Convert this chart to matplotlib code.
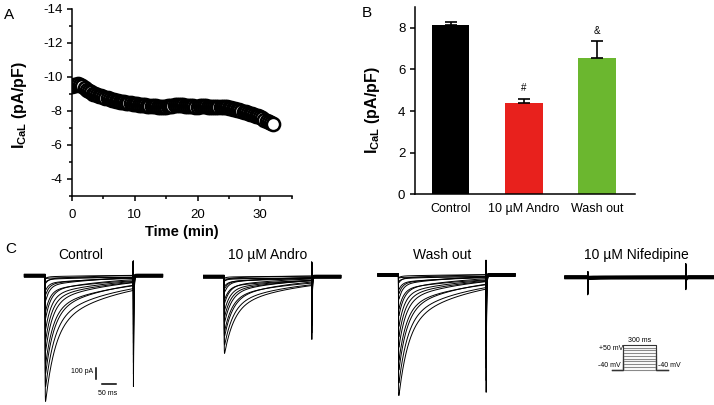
import numpy as np
import matplotlib.pyplot as plt
from matplotlib.ticker import MultipleLocator

plt.rcParams['font.family'] = ['Liberation Sans', 'DejaVu Sans']
plt.rcParams['mathtext.fontset'] = 'custom'
plt.rcParams['mathtext.rm'] = 'Liberation Sans'
plt.rcParams['mathtext.bf'] = 'Liberation Sans:bold'
plt.rcParams['mathtext.it'] = 'Liberation Sans:italic'
plt.rcParams['axes.unicode_minus'] = False

W, H = 714, 405

# --- panel A: I_CaL vs time (one point every 20 s) ---
time_min = np.arange(97) / 3.0
ical_time = [
    -9.45, -9.50, -9.55, -9.58, -9.55, -9.45, -9.35, -9.25, -9.18,
    -9.10, -9.02, -8.98, -8.92, -8.88, -8.85, -8.80, -8.76, -8.73,
    -8.70, -8.66, -8.64, -8.60, -8.58, -8.55, -8.52, -8.50, -8.48,
    -8.46, -8.44, -8.42, -8.40, -8.38, -8.37, -8.35, -8.33, -8.32,
    -8.30, -8.29, -8.28, -8.27, -8.26, -8.25, -8.25, -8.24, -8.24,
    -8.25, -8.27, -8.29, -8.31, -8.33, -8.35, -8.36, -8.35, -8.33,
    -8.31, -8.30, -8.28, -8.27, -8.26, -8.25, -8.25, -8.26, -8.27,
    -8.28, -8.27, -8.25, -8.24, -8.23, -8.22, -8.22, -8.23, -8.24,
    -8.24, -8.23, -8.21, -8.19, -8.16, -8.13, -8.10, -8.06, -8.02,
    -7.98, -7.95, -7.91, -7.87, -7.84, -7.80, -7.76, -7.72, -7.68,
    -7.63, -7.56, -7.48, -7.42, -7.36, -7.30, -7.24,
]

# --- panel B: mean +/- SEM ---
groups = ['Control', '10 µM Andro', 'Wash out']
ical_mean = [8.15, 4.38, 6.57]
ical_sem = [0.12, 0.22, 0.80]
bar_colors = ['#000000', '#e8211d', '#6bb72f']
signif = ['', '#', '&']

# --- panel C: current families (pA), one entry per sweep ---
trace_titles = ['Control', '10 µM Andro', 'Wash out', '10 µM Nifedipine']
peaks = [
    [15, 35, 60, 95, 140, 200, 270, 350, 440, 540, 650, 760, 870, 980, 1090, 1235],
    [10, 22, 38, 60, 88, 125, 170, 220, 275, 335, 400, 465, 530, 600, 670, 755],
    [15, 35, 60, 95, 140, 195, 260, 335, 420, 515, 620, 730, 840, 950, 1060, 1185],
    [2, 3, 4, 5, 6, 7, 8, 9, 10, 11, 12, 13, 14, 15, 16, 18],
]
tau_fast = [8, 9, 10, 11, 12, 13, 14, 16, 18, 20, 22, 24, 26, 28, 30, 32]   # ms
slow_frac = [0.55, 0.5, 0.48, 0.45, 0.42, 0.4, 0.38, 0.36, 0.34, 0.33, 0.33,
             0.34, 0.35, 0.36, 0.38, 0.4]
holding = [-14, 8, -5, 14, -9, 3, 11, -12, 6, -3, 0, 9, -7, 12, -2, 4]      # pA
tail_down = [1040, 590, 1100, 120]
tail_up = [125, 125, 125, 115]
onset_down = [0, 0, 0, 150]
onset_up = [0, 0, 0, 40]

# where each family sits on the page (px): step onset, step end, baseline
trace_place = [(45, 133.3, 275.7), (224, 311.7, 276.7),
               (398.3, 486, 275), (587.7, 685.7, 277.3)]
px_per_pA = 0.107

# voltage protocol
step_mv = [-40, -30, -20, -10, 0, 10, 20, 30, 40, 50]
hold_mv = -40
step_ms = 300


def px_axes(fig, x0, y0, x1, y1):
    return fig.add_axes([x0 / W, 1 - y1 / H, (x1 - x0) / W, (y1 - y0) / H])


def sweep(t, peak, tau, fs, hold, t_dn, t_up, c_dn, c_up):
    i = np.full_like(t, float(hold))
    on = (t >= 0) & (t < step_ms)
    ts = t[on]
    i[on] = hold - peak * ((1 - fs) * np.exp(-ts / tau) + fs * np.exp(-ts / 240)) \
        * (1 - np.exp(-ts / 0.4))
    i[t == 0] = hold - c_dn
    i[t == 0.5] = hold + c_up
    off = t > step_ms
    i[off] = hold - t_dn * np.exp(-(t[off] - step_ms - 0.5) / 1.5)
    i[t == step_ms] = hold + t_up
    return i


fig = plt.figure(figsize=(W / 100, H / 100), dpi=100)

# ---------------- A ----------------
ax_a = px_axes(fig, 72, 9, 291.7, 195.7)
ax_a.plot(time_min, ical_time, ls='none', marker='o', ms=9.5,
          mfc='white', mec='black', mew=1.8)
ax_a.set_xlim(0, 35)
ax_a.set_ylim(-3, -14)
ax_a.set_xticks([0, 10, 20, 30])
ax_a.xaxis.set_minor_locator(MultipleLocator(5))
ax_a.set_yticks([-14, -12, -10, -8, -6, -4])
ax_a.yaxis.set_minor_locator(MultipleLocator(1))
ax_a.set_xlabel('Time (min)', fontsize=10.5, fontweight='bold', labelpad=3)
ax_a.set_ylabel(r'$\mathbf{I_{CaL}}$ (pA/pF)', fontsize=11.5, fontweight='bold')
ax_a.yaxis.set_label_coords(-0.196, 0.486)

# ---------------- B ----------------
ax_b = px_axes(fig, 415, 7, 635, 194.3)
xb = np.arange(len(groups))
ax_b.bar(xb, ical_mean, width=0.51, color=bar_colors)
ax_b.errorbar(xb, ical_mean, yerr=[np.zeros(3), ical_sem], fmt='none',
              ecolor='black', elinewidth=1.2, capsize=4.5, capthick=1.2)
for x, m, s, lab in zip(xb, ical_mean, ical_sem, signif):
    if lab:
        ax_b.text(x, m + s + 0.25, lab, ha='center', va='bottom', fontsize=7)
ax_b.set_xlim(-0.49, 2.52)
ax_b.set_ylim(0, 9)
ax_b.set_yticks([0, 2, 4, 6, 8])
ax_b.set_xticks(xb)
ax_b.set_xticklabels(groups)
ax_b.set_ylabel(r'$\mathbf{I_{CaL}}$ (pA/pF)', fontsize=11.5, fontweight='bold')
ax_b.yaxis.set_label_coords(-0.151, 0.45)

for ax in (ax_a, ax_b):
    for side in ('top', 'right'):
        ax.spines[side].set_visible(False)
    for side in ('left', 'bottom'):
        ax.spines[side].set_linewidth(1.1)
    ax.tick_params(which='major', length=3.5, width=1.1, labelsize=9.5)
    ax.tick_params(which='minor', length=2.2, width=1.1)
ax_a.tick_params(axis='x', which='major', pad=6)
ax_b.tick_params(axis='x', length=0, pad=6, labelsize=9)

# ---------------- C ----------------
t = np.arange(-70, 400, 0.5)
for k, (onset, end, base) in enumerate(trace_place):
    s = (end - onset) / step_ms
    ax = px_axes(fig, onset - 80 * s, base - 200 * px_per_pA,
                 onset + 410 * s, base + 1300 * px_per_pA)
    ax.set_xlim(-80, 410)
    ax.set_ylim(-1300, 200)
    ax.set_axis_off()
    pk_max = max(peaks[k])
    for pk, tau, fs, hold in zip(peaks[k], tau_fast, slow_frac, holding):
        frac = pk / pk_max
        ax.plot(t, sweep(t, pk, tau, fs, hold, tail_down[k] * frac, tail_up[k],
                         onset_down[k], onset_up[k]),
                color='black', lw=0.7)
    xt = (onset + end) / 2 - (8 if k == 0 else 0)
    fig.text(xt / W, 1 - 255 / H, trace_titles[k], ha='center', va='center',
             fontsize=10)
    if k == 0:
        # scale bars: 100 pA, 50 ms
        ax.plot([174, 174], [-865, -965], color='black', lw=1.1)
        ax.plot([192, 242], [-1010, -1010], color='black', lw=1.1)
        ax.text(164, -897, '100 pA', ha='right', va='center', fontsize=5)
        ax.text(214, -1100, '50 ms', ha='center', va='center', fontsize=5)

# voltage protocol inset
pms = 32.7 / step_ms
pmv = 24.5 / 90
on_px, top_px = 623.3, 345
ax_p = px_axes(fig, on_px - 120 * pms, top_px - 10 * pmv,
               on_px + 430 * pms, top_px + 100 * pmv)
ax_p.set_xlim(-120, 430)
ax_p.set_ylim(-50, 60)
ax_p.set_axis_off()
for v in step_mv:
    ax_p.plot([-107, 0, 0, step_ms, step_ms, 413],
              [hold_mv, hold_mv, v, v, hold_mv, hold_mv],
              color='#333333' if v == step_mv[-1] else '#8a8a8a', lw=0.8)
ax_p.text(150, 52, '300 ms', ha='center', va='bottom', fontsize=5)
ax_p.text(-4, 50, '+50 mV', ha='right', va='top', fontsize=5)
ax_p.text(-20, -39, '-40 mV', ha='right', va='bottom', fontsize=5)
ax_p.text(318, -39, '-40 mV', ha='left', va='bottom', fontsize=5)

# panel letters
fig.text(9 / W, 1 - 15 / H, 'A', ha='center', va='center', fontsize=11)
fig.text(367 / W, 1 - 13 / H, 'B', ha='center', va='center', fontsize=11)
fig.text(11 / W, 1 - 249 / H, 'C', ha='center', va='center', fontsize=11)

fig.savefig('out.png', dpi=100)
